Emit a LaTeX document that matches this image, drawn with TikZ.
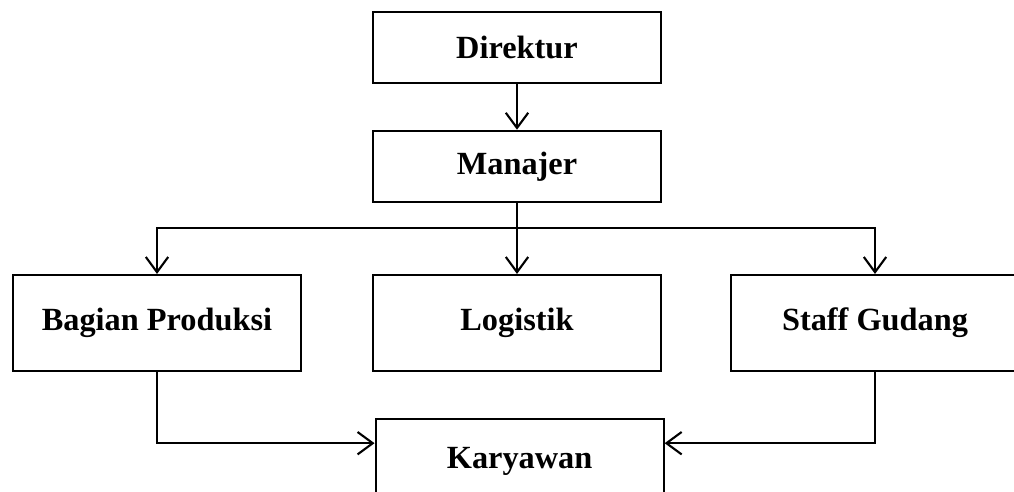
\documentclass[tikz,border=0pt]{standalone}
\usepackage{fontspec}
\setmainfont{Liberation Serif}
\usetikzlibrary{arrows.meta, positioning, calc}

\begin{document}
\begin{tikzpicture}[
        unit/.style={draw, line width=1.5pt, minimum width=7.2cm, minimum height=1.78cm, font=\fontsize{23}{28}\selectfont\bfseries},
        tall/.style={unit, minimum height=2.4cm},
        link/.style={line width=1.5pt},
        arr/.style={link, -{Straight Barb[length=3.8mm, width=5.6mm, line width=1.5pt]}}
      ]
        \clip (0,0) rectangle (25.35,-12.3);
        \useasboundingbox (0,0) rectangle (25.35,-12.3);

        \node[unit] (dir) at (12.925,-1.19) {Direktur};
        \node[unit] (man) at (12.925,-4.16) {Manajer};
        \node[tall] (prod) at (3.925,-8.075) {Bagian Produksi};
        \node[tall] (log) at (12.925,-8.075) {Logistik};
        \node[tall] (stf) at (21.875,-8.075) {Staff Gudang};
        \node[unit, minimum height=2.1cm] (kar) at (12.99,-11.53) {Karyawan};

        \draw[arr] (dir) -- (man);
        \draw[link] (man.south) -- ++(0,-0.625) coordinate (hub);
        \draw[arr] (hub) -| (prod.north);
        \draw[arr] (hub) -- (log.north);
        \draw[arr] (hub) -| (stf.north);

        \draw[arr] (prod.south) |- ($(kar.west)+(0,0.45)$);
        \draw[arr] (stf.south) |- ($(kar.east)+(0,0.45)$);
      \end{tikzpicture}
\end{document}
